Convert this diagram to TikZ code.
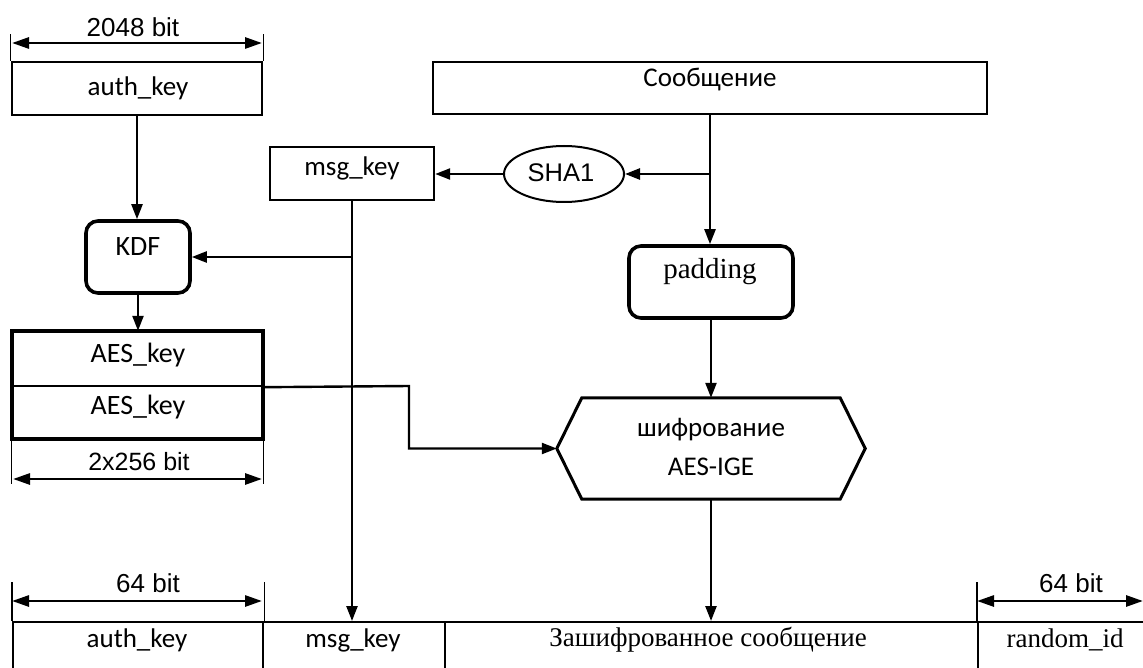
\documentclass[tikz,border=0pt]{standalone}
\usepackage{fontspec}
\setmainfont{Liberation Serif}
\newfontfamily\calfont{Carlito}
\newfontfamily\arfont{Liberation Sans}
\usetikzlibrary{arrows.meta,calc,shapes.geometric}

\begin{document}
\begin{tikzpicture}[x=1pt,y=-1pt,
  line/.style={line width=2.4pt},
  arr/.style={line width=2.4pt,-{Triangle[length=15pt,width=11pt]}},
  dimline/.style={line width=2.8pt,{Triangle[length=17pt,width=11pt]}-{Triangle[length=17pt,width=11pt]}},
  tickline/.style={line width=1.2pt},
  plain/.style={draw,line width=2.4pt,inner sep=0pt},
  bold/.style={draw,line width=3.6pt,rounded corners=12pt,inner sep=0pt},
  cal/.style={font=\calfont\fontsize{27}{30}\selectfont,inner sep=0pt},
  ari/.style={font=\arfont\fontsize{26}{30}\selectfont,inner sep=0pt},
  rom/.style={font=\fontsize{27}{31}\selectfont,inner sep=0pt},
]
\useasboundingbox (0,0) rectangle (1143,668);
\clip (0,0) rectangle (1143,668);

% ---- boxes ----
\node[plain, minimum width=250pt, minimum height=53pt] (ak) at (137,88.5) {};
\node[cal] (akt) at (138,88) {auth\_key};

\node[plain, line width=2.8pt, minimum width=554pt, minimum height=52pt] (soob) at (710,88) {};
\node[cal] (soobt) at (710,80) {Сообщение};

\node[plain, minimum width=164pt, minimum height=53pt] (msg) at (352,173.5) {};
\node[cal] (msgt) at (352,168) {msg\_key};

\node[draw, ellipse, line width=2pt, inner sep=0pt, minimum width=120pt, minimum height=56pt] (sha) at (564,174) {};
\node[ari, font=\arfont\fontsize{25.5}{30}\selectfont] (shat) at (561,173) {SHA1};

\node[bold, minimum width=104pt, minimum height=72pt] (kdf) at (138,257) {};
\node[cal, font=\calfont\fontsize{28}{32}\selectfont] (kdft) at (138,247) {KDF};

\node[bold, minimum width=164pt, minimum height=72pt] (pad) at (711,282) {};
\node[rom, font=\fontsize{29}{33}\selectfont] (padt) at (710,272) {padding};

% double key block
\node[plain, minimum width=249pt, minimum height=54pt] (aes1) at (137.5,359) {};
\node[plain, minimum width=249pt, minimum height=52pt] (aes2) at (137.5,412) {};
\draw[line width=4pt] (aes1.north west) rectangle (aes2.south east);
\node[cal, font=\calfont\fontsize{28}{32}\selectfont] (aes1t) at (138,355) {AES\_key};
\node[cal, font=\calfont\fontsize{28}{32}\selectfont] (aes2t) at (138,407) {AES\_key};

% encryption block (hexagon)
\node[minimum width=308pt, minimum height=101pt, inner sep=0pt] (enc) at (711,448.5) {};
\draw[line width=3pt, line join=miter]
  (enc.west) -- ([xshift=25pt]enc.north west) -- ([xshift=-25pt]enc.north east)
  -- (enc.east) -- ([xshift=-25pt]enc.south east) -- ([xshift=25pt]enc.south west) -- cycle;
\node[cal] (enct1) at (711,430) {шифрование};
\node[cal] (enct2) at (711,467) {AES-IGE};

% ---- bottom row ----
\node[plain, anchor=north west, minimum width=250pt, minimum height=80pt] (c1) at (12,621) {};
\node[plain, anchor=north west, minimum width=182pt, minimum height=80pt] (c2) at (262,621) {};
\node[plain, anchor=north west, minimum width=533pt, minimum height=80pt] (c3) at (444,621) {};
\node[plain, anchor=north west, minimum width=190pt, minimum height=80pt] (c4) at (977,621) {};
\node[cal] (c1t) at (137,640) {auth\_key};
\node[cal] (c2t) at (353,640) {msg\_key};
\node[rom] (c3t) at (708,640) {Зашифрованное сообщение};
\node[rom] (c4t) at (1065,640) {random\_id};

% ---- connectors ----
\coordinate (j1) at (soob.south |- sha.east);
\draw[line] (soob.south) -- (j1);
\draw[arr] (j1) -- (sha.east);
\draw[arr] (sha.west) -- (sha.west -| msg.east);
\draw[arr] (j1) -- (j1 |- pad.north);
\draw[arr] (pad.south) -- (pad.south |- enc.north);
\draw[arr] (enc.south) -- (enc.south |- c3.north);

\draw[arr] (msg.south) -- (msg.south |- c2.north);
\coordinate (j2) at (msg.south |- kdf.east);
\draw[arr] (j2) -- (kdf.east);

\draw[arr] (ak.south) -- (ak.south |- kdf.north);
\draw[arr] (kdf.south) -- (kdf.south |- aes1.north);

\coordinate (b1) at (409,386);
\draw[arr] (aes1.south east) -- (b1) |- (enc.west);

% ---- dimension marks ----
\coordinate (d1a) at (12,43);
\coordinate (d1b) at (262,43);
\draw[tickline] (ak.north west) -- ++(0,-27);
\draw[tickline] (ak.north east) -- ++(0,-27);
\draw[dimline] (d1a) -- (d1b);
\node[ari] (d1t) at (133,27) {2048 bit};

\coordinate (d2a) at (13,479);
\coordinate (d2b) at (262,479);
\draw[tickline] (aes2.south west) -- ++(0,45);
\draw[tickline] (aes2.south east) -- ++(0,45);
\draw[dimline] (d2a) -- (d2b);
\node[ari, font=\arfont\fontsize{25}{30}\selectfont] (d2t) at (139,462) {2x256 bit};

\coordinate (d3a) at (12,601);
\coordinate (d3b) at (262,601);
\draw[tickline] (c1.north west) -- ++(0,-39);
\draw[tickline] (c1.north east) -- ++(0,-39);
\draw[dimline] (d3a) -- (d3b);
\node[ari] (d3t) at (148,583) {64 bit};

\coordinate (d4a) at (977,601);
\coordinate (d4b) at (1143,601);
\draw[tickline] (c4.north west) -- ++(0,-39);
\draw[dimline] (d4a) -- (d4b);
\node[ari] (d4t) at (1071,583) {64 bit};
\end{tikzpicture}
\end{document}
